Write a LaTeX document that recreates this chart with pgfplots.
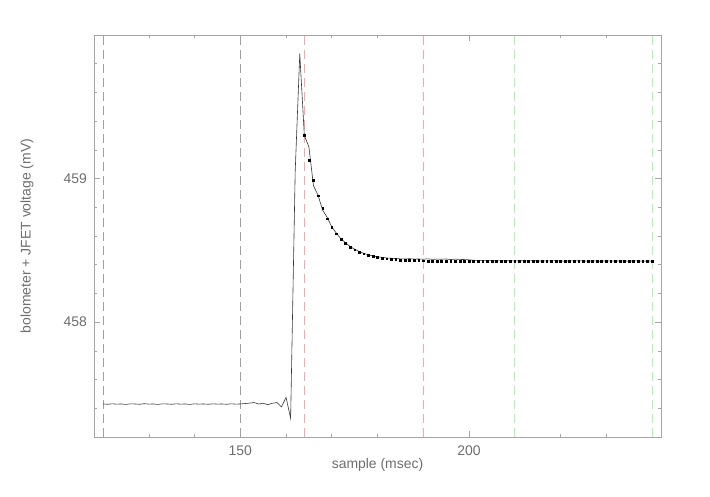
\documentclass[border=0pt]{standalone}
\usepackage{fontspec}
\setmainfont{Liberation Sans}
\usepackage{pgfplots}
\usepackage{pgfplotstable}
\pgfplotsset{compat=1.18}
\definecolor{axcol}{RGB}{165,165,165}
\definecolor{txtcol}{RGB}{110,110,110}
\definecolor{dgray}{RGB}{160,160,160}
\definecolor{dpink}{RGB}{255,165,165}
\definecolor{dgreen}{RGB}{165,250,165}
\definecolor{linecol}{RGB}{55,55,55}

\pgfplotstableread{
x y
120 457.430
121 457.428
122 457.431
123 457.429
124 457.430
125 457.427
126 457.431
127 457.430
128 457.428
129 457.432
130 457.429
131 457.430
132 457.427
133 457.431
134 457.430
135 457.428
136 457.431
137 457.429
138 457.430
139 457.427
140 457.431
141 457.429
142 457.430
143 457.428
144 457.431
145 457.429
146 457.430
147 457.428
148 457.431
149 457.429
150 457.430
151 457.433
152 457.436
153 457.440
154 457.430
155 457.435
156 457.425
157 457.435
158 457.440
159 457.410
160 457.476
161 457.330
162 459.050
163 459.870
164 459.300
165 459.220
166 458.950
167 458.884
168 458.780
169 458.730
170 458.663
171 458.620
172 458.580
173 458.553
174 458.527
175 458.508
176 458.492
177 458.479
178 458.469
179 458.461
180 458.455
181 458.451
182 458.447
183 458.445
184 458.443
185 458.441
186 458.440
187 458.442
188 458.439
189 458.440
190 458.438
191 458.441
192 458.437
193 458.439
194 458.438
195 458.440
196 458.436
197 458.439
198 458.437
199 458.436
200 458.434
201 458.431
202 458.430
203 458.428
204 458.429
205 458.427
206 458.428
207 458.426
208 458.428
209 458.427
210 458.426
211 458.428
212 458.427
213 458.426
214 458.428
215 458.427
216 458.425
217 458.427
218 458.426
219 458.428
220 458.426
221 458.425
222 458.427
223 458.426
224 458.428
225 458.426
226 458.425
227 458.427
228 458.426
229 458.425
230 458.427
231 458.426
232 458.425
233 458.427
234 458.426
235 458.425
236 458.427
237 458.426
238 458.425
239 458.426
240 458.425
}\datatable

\pgfplotstableread{
x y
164 459.300
165 459.129
166 458.991
167 458.881
168 458.792
169 458.720
170 458.662
171 458.616
172 458.579
173 458.549
174 458.524
175 458.505
176 458.489
177 458.477
178 458.467
179 458.458
180 458.452
181 458.447
182 458.442
183 458.439
184 458.436
185 458.434
186 458.432
187 458.431
188 458.430
189 458.429
190 458.428
191 458.427
192 458.426
193 458.426
194 458.426
195 458.426
196 458.425
197 458.425
198 458.425
199 458.425
200 458.425
201 458.425
202 458.425
203 458.425
204 458.425
205 458.425
206 458.425
207 458.425
208 458.425
209 458.425
210 458.425
211 458.425
212 458.425
213 458.425
214 458.425
215 458.425
216 458.425
217 458.425
218 458.425
219 458.425
220 458.425
221 458.425
222 458.425
223 458.425
224 458.425
225 458.425
226 458.425
227 458.425
228 458.425
229 458.425
230 458.425
231 458.425
232 458.425
233 458.425
234 458.425
235 458.425
236 458.425
237 458.425
238 458.425
239 458.425
240 458.425
}\fittable

\begin{document}
\begin{tikzpicture}
\useasboundingbox[fill=white] (0,0) rectangle (710bp,497bp);
\begin{axis}[
  at={(94bp,60bp)}, anchor=south west,
  scale only axis, width=567bp, height=402bp,
  xmin=118, xmax=242, ymin=457.2, ymax=460,
  xtick={150,200},
  minor xtick={120,130,140,160,170,180,190,210,220,230,240},
  ytick={458,459},
  minor ytick={457.4,457.6,457.8,458.2,458.4,458.6,458.8,459.2,459.4,459.6,459.8},
  axis line style={axcol, line width=0.7bp},
  every tick/.style={axcol, line width=0.7bp},
  major tick length=6bp, minor tick length=3.5bp,
  /pgf/number format/assume math mode=true,
  ticklabel style={font=\fontsize{14}{16}\selectfont, text=txtcol, inner sep=0pt},
  xticklabel style={anchor=north, yshift=-9bp},
  yticklabel style={anchor=east, xshift=-7bp},
  xlabel={sample (msec)},
  ylabel={bolometer + JFET voltage (mV)},
  label style={font=\fontsize{14}{16}\selectfont, text=txtcol, inner sep=0pt},
  xlabel style={at={(axis description cs:0.5,0)}, anchor=center, yshift=-28bp},
  ylabel style={at={(axis description cs:0,0.5)}, anchor=center, yshift=67bp},
  clip=true,
]
\addplot[dgray, line width=0.7bp, dash pattern=on 9bp off 5bp] coordinates {(120,457.2) (120,460)};
\addplot[dgray, line width=0.7bp, dash pattern=on 9bp off 5bp] coordinates {(150,457.2) (150,460)};
\addplot[dpink, line width=0.7bp, dash pattern=on 9bp off 5bp] coordinates {(164,457.2) (164,460)};
\addplot[dpink, line width=0.7bp, dash pattern=on 9bp off 5bp] coordinates {(190,457.2) (190,460)};
\addplot[dgreen, line width=0.7bp, dash pattern=on 9bp off 5bp] coordinates {(210,457.2) (210,460)};
\addplot[dgreen, line width=0.7bp, dash pattern=on 9bp off 5bp] coordinates {(240,457.2) (240,460)};
\addplot[linecol, line width=0.6bp, mark=none] table[x=x,y=y] {\datatable};
\addplot[only marks, black, mark=square*, mark size=0.9bp] table[x=x,y=y] {\fittable};
\end{axis}
\end{tikzpicture}
\end{document}
